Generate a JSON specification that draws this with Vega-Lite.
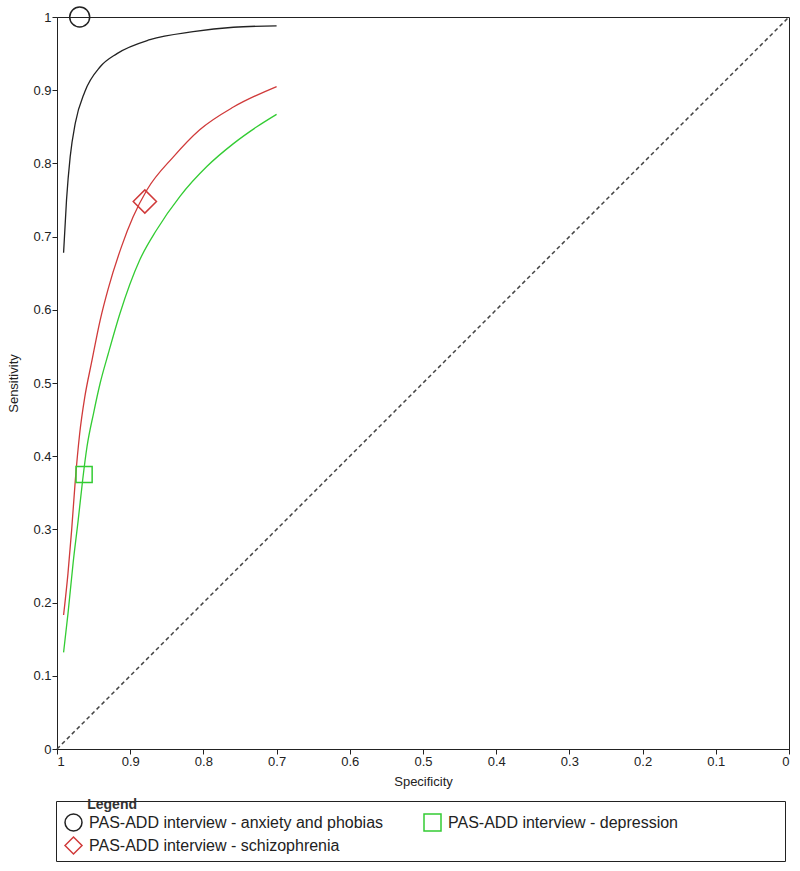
{
  "$schema": "https://vega.github.io/schema/vega-lite/v6.json",
  "width": 732,
  "height": 732,
  "autosize": {"type": "none"},
  "padding": {"left": 57, "top": 17, "right": 11, "bottom": 122},
  "background": "white",
  "config": {
    "view": {"stroke": "#222", "strokeWidth": 1},
    "font": "Liberation Sans",
    "axis": {
      "grid": false,
      "domainColor": "#222",
      "tickColor": "#222",
      "tickSize": 5,
      "labelFont": "Liberation Sans",
      "labelFontSize": 13,
      "labelColor": "#222",
      "titleFont": "Liberation Sans",
      "titleFontSize": 13,
      "titleFontWeight": "normal",
      "titleColor": "#222",
      "labelPadding": 1
    }
  },
  "datasets": {
    "curves": [
      {"series": "PAS-ADD interview - anxiety and phobias", "i": 1, "spec": 0.991, "sens": 0.678},
      {"series": "PAS-ADD interview - anxiety and phobias", "i": 2, "spec": 0.987, "sens": 0.75},
      {"series": "PAS-ADD interview - anxiety and phobias", "i": 3, "spec": 0.982, "sens": 0.809},
      {"series": "PAS-ADD interview - anxiety and phobias", "i": 4, "spec": 0.975, "sens": 0.855},
      {"series": "PAS-ADD interview - anxiety and phobias", "i": 5, "spec": 0.962, "sens": 0.898},
      {"series": "PAS-ADD interview - anxiety and phobias", "i": 6, "spec": 0.941, "sens": 0.932},
      {"series": "PAS-ADD interview - anxiety and phobias", "i": 7, "spec": 0.918, "sens": 0.95},
      {"series": "PAS-ADD interview - anxiety and phobias", "i": 8, "spec": 0.873, "sens": 0.969},
      {"series": "PAS-ADD interview - anxiety and phobias", "i": 9, "spec": 0.814, "sens": 0.98},
      {"series": "PAS-ADD interview - anxiety and phobias", "i": 10, "spec": 0.759, "sens": 0.986},
      {"series": "PAS-ADD interview - anxiety and phobias", "i": 11, "spec": 0.7, "sens": 0.988},
      {"series": "PAS-ADD interview - schizophrenia", "i": 1, "spec": 0.991, "sens": 0.183},
      {"series": "PAS-ADD interview - schizophrenia", "i": 2, "spec": 0.985, "sens": 0.24},
      {"series": "PAS-ADD interview - schizophrenia", "i": 3, "spec": 0.98, "sens": 0.299},
      {"series": "PAS-ADD interview - schizophrenia", "i": 4, "spec": 0.975, "sens": 0.367},
      {"series": "PAS-ADD interview - schizophrenia", "i": 5, "spec": 0.969, "sens": 0.431},
      {"series": "PAS-ADD interview - schizophrenia", "i": 6, "spec": 0.962, "sens": 0.481},
      {"series": "PAS-ADD interview - schizophrenia", "i": 7, "spec": 0.953, "sens": 0.527},
      {"series": "PAS-ADD interview - schizophrenia", "i": 8, "spec": 0.941, "sens": 0.586},
      {"series": "PAS-ADD interview - schizophrenia", "i": 9, "spec": 0.93, "sens": 0.629},
      {"series": "PAS-ADD interview - schizophrenia", "i": 10, "spec": 0.912, "sens": 0.686},
      {"series": "PAS-ADD interview - schizophrenia", "i": 11, "spec": 0.896, "sens": 0.727},
      {"series": "PAS-ADD interview - schizophrenia", "i": 12, "spec": 0.877, "sens": 0.764},
      {"series": "PAS-ADD interview - schizophrenia", "i": 13, "spec": 0.841, "sens": 0.809},
      {"series": "PAS-ADD interview - schizophrenia", "i": 14, "spec": 0.805, "sens": 0.846},
      {"series": "PAS-ADD interview - schizophrenia", "i": 15, "spec": 0.759, "sens": 0.877},
      {"series": "PAS-ADD interview - schizophrenia", "i": 16, "spec": 0.7, "sens": 0.905},
      {"series": "PAS-ADD interview - depression", "i": 1, "spec": 0.991, "sens": 0.132},
      {"series": "PAS-ADD interview - depression", "i": 2, "spec": 0.985, "sens": 0.185},
      {"series": "PAS-ADD interview - depression", "i": 3, "spec": 0.978, "sens": 0.254},
      {"series": "PAS-ADD interview - depression", "i": 4, "spec": 0.971, "sens": 0.313},
      {"series": "PAS-ADD interview - depression", "i": 5, "spec": 0.965, "sens": 0.367},
      {"series": "PAS-ADD interview - depression", "i": 6, "spec": 0.959, "sens": 0.413},
      {"series": "PAS-ADD interview - depression", "i": 7, "spec": 0.95, "sens": 0.459},
      {"series": "PAS-ADD interview - depression", "i": 8, "spec": 0.941, "sens": 0.5},
      {"series": "PAS-ADD interview - depression", "i": 9, "spec": 0.93, "sens": 0.54},
      {"series": "PAS-ADD interview - depression", "i": 10, "spec": 0.914, "sens": 0.595},
      {"series": "PAS-ADD interview - depression", "i": 11, "spec": 0.887, "sens": 0.668},
      {"series": "PAS-ADD interview - depression", "i": 12, "spec": 0.864, "sens": 0.709},
      {"series": "PAS-ADD interview - depression", "i": 13, "spec": 0.832, "sens": 0.755},
      {"series": "PAS-ADD interview - depression", "i": 14, "spec": 0.795, "sens": 0.796},
      {"series": "PAS-ADD interview - depression", "i": 15, "spec": 0.759, "sens": 0.827},
      {"series": "PAS-ADD interview - depression", "i": 16, "spec": 0.727, "sens": 0.85},
      {"series": "PAS-ADD interview - depression", "i": 17, "spec": 0.7, "sens": 0.867}
    ],
    "points": [
      {"series": "PAS-ADD interview - anxiety and phobias", "spec": 0.969, "sens": 1.0},
      {"series": "PAS-ADD interview - depression", "spec": 0.963, "sens": 0.375},
      {"series": "PAS-ADD interview - schizophrenia", "spec": 0.88, "sens": 0.748}
    ],
    "diagonal": [
      {"spec": 1, "sens": 0},
      {"spec": 0, "sens": 1}
    ]
  },
  "layer": [
    {
      "data": {"name": "diagonal"},
      "mark": {"type": "line", "color": "#444", "strokeWidth": 1.5, "strokeDash": [4, 3]},
      "encoding": {
        "x": {"field": "spec", "type": "quantitative"},
        "y": {"field": "sens", "type": "quantitative"}
      }
    },
    {
      "data": {"name": "curves"},
      "mark": {"type": "line", "strokeWidth": 1.3, "interpolate": "monotone"},
      "encoding": {
        "x": {"field": "spec", "type": "quantitative"},
        "y": {"field": "sens", "type": "quantitative"},
        "order": {"field": "i"},
        "stroke": {
          "field": "series", "type": "nominal",
          "scale": {"range": ["#222222", "#33cc33", "#d03a3a"]},
          "legend": null
        }
      }
    },
    {
      "data": {"name": "points"},
      "mark": {"type": "point", "filled": false, "strokeWidth": 1.5, "opacity": 1},
      "encoding": {
        "x": {
          "field": "spec", "type": "quantitative",
          "scale": {"domain": [0, 1], "reverse": true, "nice": false, "zero": false},
          "axis": {"values": [0, 0.1, 0.2, 0.3, 0.4, 0.5, 0.6, 0.7, 0.8, 0.9, 1], "format": "~g", "title": "Specificity", "titlePadding": 7}
        },
        "y": {
          "field": "sens", "type": "quantitative",
          "scale": {"domain": [0, 1], "nice": false, "zero": false},
          "axis": {"values": [0, 0.1, 0.2, 0.3, 0.4, 0.5, 0.6, 0.7, 0.8, 0.9, 1], "format": "~g", "title": "Sensitivity", "titlePadding": 12}
        },
        "color": {
          "field": "series", "type": "nominal",
          "scale": {
            "domain": ["PAS-ADD interview - anxiety and phobias", "PAS-ADD interview - depression", "PAS-ADD interview - schizophrenia"],
            "range": ["#222222", "#33cc33", "#d03a3a"]
          },
          "legend": {
            "orient": "none",
            "direction": "horizontal",
            "legendX": -1,
            "legendY": 784,
            "columns": 2,
            "columnPadding": 35,
            "rowPadding": 0,
            "padding": 4,
            "symbolOffset": 4,
            "strokeColor": "#222",
            "fillColor": "white",
            "title": "\u200b\u00a0\u00a0\u00a0\u00a0\u00a0\u00a0\u00a0Legend",
            "titleFont": "Liberation Sans",
            "titleFontSize": 14,
            "titleFontWeight": "bold",
            "titleColor": "#333",
            "titleBaseline": "middle",
            "titlePadding": -6,
            "labelFont": "Liberation Sans",
            "labelFontSize": 16,
            "labelColor": "#222",
            "labelOffset": 6,
            "labelLimit": 600,
            "symbolSize": 289,
            "symbolStrokeWidth": 1.5,
            "labelExpr": "datum.label == 'PAS-ADD interview - depression' ? datum.label + '\u00a0\u00a0\u00a0\u00a0\u00a0\u00a0\u00a0\u00a0\u00a0\u00a0\u00a0\u00a0\u00a0\u00a0\u00a0\u00a0\u00a0\u00a0\u00a0\u00a0\u00a0\u00a0\u00a0\u200b' : datum.label"
          }
        },
        "shape": {
          "field": "series", "type": "nominal",
          "scale": {
            "domain": ["PAS-ADD interview - anxiety and phobias", "PAS-ADD interview - depression", "PAS-ADD interview - schizophrenia"],
            "range": ["circle", "square", "diamond"]
          }
        },
        "size": {
          "field": "series", "type": "nominal",
          "scale": {"type": "ordinal", "range": [400, 260, 540]},
          "legend": null
        }
      }
    }
  ]
}
